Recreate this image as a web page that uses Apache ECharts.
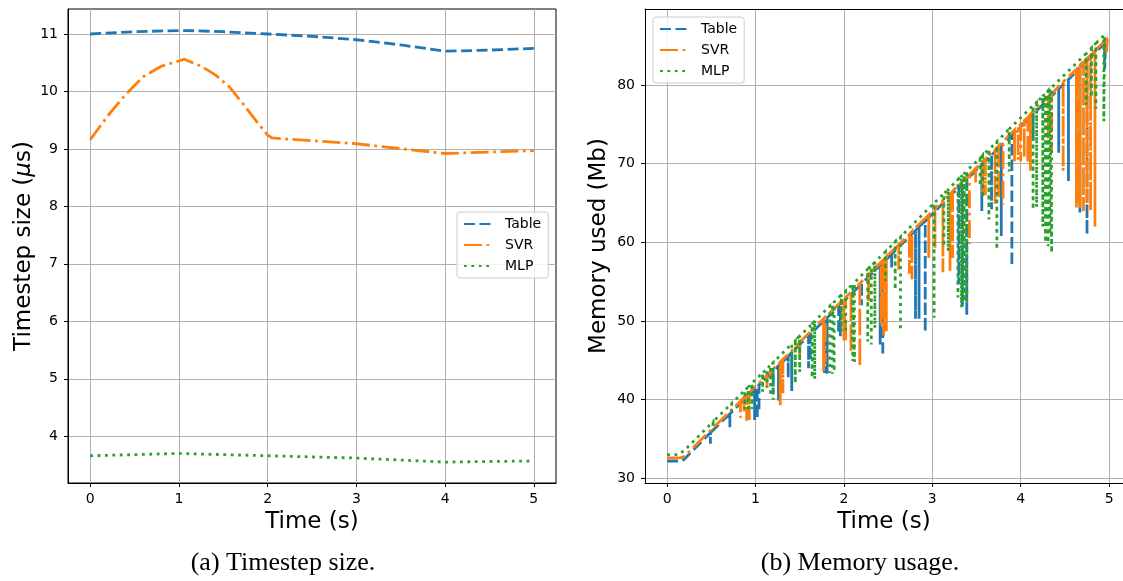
<!DOCTYPE html>
<html>
<head>
<meta charset="utf-8">
<script src="https://cdn.jsdelivr.net/npm/echarts@6/dist/echarts.min.js"></script>
<style>
html,body{margin:0;padding:0;background:#fff;}
#chart{width:1123px;height:581px;}
</style>
</head>
<body>
<div id="chart"></div>
<script>
// ---------- Data: (a) Timestep size ----------
const seriesNames = ['Table', 'SVR', 'MLP'];
const timeTicks = [0, 1, 2, 3, 4, 5];
const timestepTicks = [4, 5, 6, 7, 8, 9, 10, 11];
const memoryTicks = [30, 40, 50, 60, 70, 80];
const timestepTable = [[0,11.0],[0.5,11.04],[1.0,11.06],[1.1,11.06],[1.5,11.04],[2.0,11.0],[2.5,10.96],[3.0,10.9],[3.5,10.81],[4.0,10.7],[4.5,10.72],[5.0,10.75]];
const timestepSVR = [[0,9.16],[0.19,9.56],[0.4,9.95],[0.6,10.26],[0.8,10.44],[1.0,10.53],[1.06,10.56],[1.25,10.44],[1.41,10.29],[1.57,10.08],[1.73,9.77],[1.89,9.45],[2.0,9.24],[2.05,9.19],[3.0,9.09],[4.0,8.92],[5.0,8.97]];
const timestepMLP = [[0,3.66],[1.0,3.70],[2.0,3.66],[3.0,3.62],[4.0,3.55],[5.0,3.57]];

// ---------- Data: (b) Memory usage ----------
const memTable = [
[0,32.2],[0.17,32.2],[0.2,32.5],
[0.49,35.8],[0.49,34.4],[0.49,35.8],
[0.71,38.2],[0.71,36.5],[0.71,38.2],
[0.99,41.3],[0.99,37.4],[0.99,41.3],
[1.02,41.6],[1.02,37.6],[1.02,41.6],
[1.04,41.9],[1.04,38.5],[1.04,41.9],
[1.2,43.6],[1.2,40.7],[1.2,43.6],
[1.26,44.3],[1.26,39.9],[1.26,44.3],
[1.37,45.5],[1.37,42.8],[1.37,45.5],
[1.41,46.0],[1.41,41.1],[1.41,46.0],
[1.6,48.1],[1.6,44.0],[1.6,48.1],
[1.62,48.3],[1.62,45.0],[1.62,48.3],
[1.78,50.1],[1.78,43.4],[1.78,50.1],
[1.81,50.4],[1.81,43.3],[1.81,50.4],
[1.94,51.8],[1.94,48.4],[1.94,51.8],
[1.96,52.1],[1.96,47.9],[1.96,52.1],
[2.2,54.7],[2.2,52.0],[2.2,54.7],
[2.41,57.1],[2.41,47.0],[2.41,57.1],
[2.44,57.4],[2.44,45.6],[2.44,57.4],
[2.54,58.5],[2.54,56.8],[2.54,58.5],
[2.81,61.5],[2.81,50.3],[2.81,61.5],
[2.85,62.0],[2.85,50.3],[2.85,62.0],
[2.92,62.7],[2.92,48.6],[2.92,62.7],
[3.3,67.0],[3.3,54.7],[3.3,67.0],
[3.34,67.4],[3.34,51.8],[3.34,67.4],
[3.39,68.0],[3.39,50.6],[3.39,68.0],
[3.56,69.9],[3.56,64.0],[3.56,69.9],
[3.67,71.1],[3.67,64.2],[3.67,71.1],
[3.78,72.3],[3.78,60.8],[3.78,72.3],
[3.9,73.6],[3.9,57.0],[3.9,73.6],
[4.14,76.3],[4.14,72.9],[4.14,76.3],
[4.43,79.5],[4.43,71.4],[4.43,79.5],
[4.54,80.7],[4.54,67.8],[4.54,80.7],
[4.67,82.2],[4.67,63.8],[4.67,82.2],
[4.75,83.1],[4.75,61.0],[4.75,83.1],
[4.95,85.3],[4.95,82.0],[4.96,85.4]
];
const memSVR = [
[0,32.6],[0.15,32.6],[0.2,32.8],[0.5,36.2],
[0.83,39.8],[0.83,37.7],[0.83,39.8],
[0.87,40.3],[0.87,38.5],[0.87,40.3],
[0.9,40.6],[0.9,37.3],[0.9,40.6],
[0.93,40.9],[0.93,37.4],[0.93,40.9],
[1.13,43.1],[1.13,41.6],[1.13,43.1],
[1.17,43.6],[1.17,42.6],[1.17,43.6],
[1.28,44.8],[1.28,39.3],[1.28,44.8],
[1.31,45.1],[1.31,40.8],[1.31,45.1],
[1.5,47.3],[1.5,45.5],[1.5,47.3],
[1.77,50.3],[1.77,43.6],[1.77,50.3],
[1.79,50.5],[1.79,44.7],[1.79,50.5],
[2.0,52.8],[2.0,47.5],[2.0,52.8],
[2.02,53.0],[2.02,47.4],[2.02,53.0],
[2.08,53.7],[2.08,46.0],[2.08,53.7],
[2.18,54.8],[2.18,44.2],[2.18,54.8],
[2.28,55.9],[2.28,52.5],[2.28,55.9],
[2.42,57.5],[2.42,49.5],[2.42,57.5],
[2.45,57.8],[2.45,48.2],[2.45,57.8],
[2.48,58.2],[2.48,48.7],[2.48,58.2],
[2.62,59.7],[2.62,56.5],[2.62,59.7],
[2.74,61.0],[2.74,56.0],[2.74,61.0],
[2.77,61.4],[2.77,55.3],[2.77,61.4],
[2.96,63.5],[2.96,58.0],[2.96,63.5],
[3.03,64.3],[3.03,59.3],[3.03,64.3],
[3.12,65.3],[3.12,56.2],[3.12,65.3],
[3.2,66.1],[3.2,56.4],[3.2,66.1],
[3.23,66.5],[3.23,58.0],[3.23,66.5],
[3.42,68.6],[3.42,59.8],[3.42,68.6],
[3.49,69.4],[3.49,67.4],[3.49,69.4],
[3.57,70.3],[3.57,66.1],[3.57,70.3],
[3.6,70.6],[3.6,66.0],[3.6,70.6],
[3.71,71.8],[3.71,64.8],[3.71,71.8],
[3.75,72.3],[3.75,65.5],[3.75,72.3],
[3.8,72.8],[3.8,64.8],[3.8,72.8],
[3.93,74.3],[3.93,70.3],[3.93,74.3],
[3.97,74.7],[3.97,70.5],[3.97,74.7],
[4.0,75.0],[4.0,70.3],[4.0,75.0],
[4.04,75.5],[4.04,70.8],[4.04,75.5],
[4.08,75.9],[4.08,70.0],[4.08,75.9],
[4.11,76.3],[4.11,69.1],[4.11,76.3],
[4.31,78.5],[4.31,73.0],[4.31,78.5],
[4.35,78.9],[4.35,71.5],[4.35,78.9],
[4.48,80.4],[4.48,69.1],[4.48,80.4],
[4.63,82.0],[4.63,64.4],[4.63,82.0],
[4.65,82.2],[4.65,65.0],[4.65,82.2],
[4.67,82.5],[4.67,64.4],[4.67,82.5],
[4.71,82.9],[4.71,64.0],[4.71,82.9],
[4.75,83.4],[4.75,65.0],[4.75,83.4],
[4.79,83.8],[4.79,64.0],[4.79,83.8],
[4.84,84.4],[4.84,62.0],[4.84,84.4],
[4.97,85.8],[4.97,84.1],[4.98,85.9]
];
const memMLP = [
[0,33.0],[0.13,33.0],[0.2,33.6],
[0.52,37.2],[0.52,36.0],[0.52,37.2],
[0.73,39.5],[0.73,38.5],[0.73,39.5],
[0.88,41.2],[0.88,38.8],[0.88,41.2],
[0.92,41.6],[0.92,38.5],[0.92,41.6],
[0.96,42.1],[0.96,38.8],[0.96,42.1],
[1.08,43.4],[1.08,41.0],[1.08,43.4],
[1.13,43.9],[1.13,41.5],[1.13,43.9],
[1.17,44.4],[1.17,40.5],[1.17,44.4],
[1.2,44.7],[1.2,40.0],[1.2,44.7],
[1.41,47.1],[1.41,43.5],[1.41,47.1],
[1.45,47.5],[1.45,42.1],[1.45,47.5],
[1.5,48.1],[1.5,43.5],[1.5,48.1],
[1.64,49.6],[1.64,42.8],[1.64,49.6],
[1.67,50.0],[1.67,42.6],[1.67,50.0],
[1.84,51.9],[1.84,43.4],[1.84,51.9],
[1.87,52.2],[1.87,43.3],[1.87,52.2],
[1.89,52.4],[1.89,43.6],[1.89,52.4],
[1.97,53.3],[1.97,48.7],[1.97,53.3],
[2.02,53.8],[2.02,48.5],[2.02,53.8],
[2.1,54.7],[2.1,44.9],[2.1,54.7],
[2.12,54.9],[2.12,44.8],[2.12,54.9],
[2.27,56.6],[2.27,47.4],[2.27,56.6],
[2.31,57.0],[2.31,47.0],[2.31,57.0],
[2.35,57.5],[2.35,49.1],[2.35,57.5],
[2.47,58.8],[2.47,55.1],[2.47,58.8],
[2.58,60.1],[2.58,54.0],[2.58,60.1],
[2.64,60.7],[2.64,48.8],[2.64,60.7],
[3.02,65.0],[3.02,50.4],[3.02,65.0],
[3.13,66.2],[3.13,59.5],[3.13,66.2],
[3.18,66.7],[3.18,58.9],[3.18,66.7],
[3.29,68.0],[3.29,53.0],[3.29,68.0],
[3.33,68.4],[3.33,51.7],[3.33,68.4],
[3.36,68.7],[3.36,52.5],[3.36,68.7],
[3.39,69.1],[3.39,52.2],[3.39,69.1],
[3.54,70.7],[3.54,67.2],[3.54,70.7],
[3.57,71.1],[3.57,65.7],[3.57,71.1],
[3.64,71.8],[3.64,62.9],[3.64,71.8],
[3.73,72.8],[3.73,59.1],[3.73,72.8],
[3.87,74.4],[3.87,69.0],[3.87,74.4],
[4.14,77.4],[4.14,64.2],[4.14,77.4],
[4.18,77.8],[4.18,64.5],[4.18,77.8],
[4.25,78.6],[4.25,62.0],[4.25,78.6],
[4.28,78.9],[4.28,60.0],[4.28,78.9],
[4.31,79.3],[4.31,59.5],[4.31,79.3],
[4.33,79.5],[4.33,61.0],[4.33,79.5],
[4.35,79.7],[4.35,58.7],[4.35,79.7],
[4.74,84.0],[4.74,77.5],[4.74,84.0],
[4.8,84.7],[4.8,78.5],[4.8,84.7],
[4.85,85.3],[4.85,77.0],[4.85,85.3],
[4.94,86.3],[4.94,75.4],[4.95,86.5]
];

// ---------- Style ----------
const FONT = 'DejaVu Sans';
const COLORS = ['#1f77b4', '#ff7f0e', '#2ca02c'];
const LW = 2.8;
const DASHES = [[11, 4.5], [18, 4.5, 2.8, 4.5], [2.8, 4.6]];

function xAxisCfg(gi, min, max) {
  return {
    type: 'value', gridIndex: gi, min: min, max: max, minInterval: 1, maxInterval: 1,
    name: 'Time (s)', nameLocation: 'middle', nameGap: 28,
    nameTextStyle: { fontFamily: FONT, fontSize: 23, color: '#000' },
    axisLine: { show: true, onZero: false, lineStyle: { color: '#000', width: 1 } },
    axisTick: { show: true, inside: false, length: 4, customValues: timeTicks, lineStyle: { color: '#000', width: 1 } },
    axisLabel: { fontFamily: FONT, fontSize: 14, color: '#000', margin: 9, customValues: timeTicks },
    splitLine: { show: true, lineStyle: { color: '#b0b0b0', width: 1 } }
  };
}
function yAxisCfg(gi, min, max, step, ticks, name, gap, rich) {
  return {
    type: 'value', gridIndex: gi, min: min, max: max, minInterval: step, maxInterval: step,
    name: name, nameLocation: 'middle', nameGap: gap,
    nameTextStyle: { fontFamily: FONT, fontSize: 23, color: '#000', rich: rich || {} },
    axisLine: { show: true, onZero: false, lineStyle: { color: '#000', width: 1 } },
    axisTick: { show: true, inside: false, length: 4, customValues: ticks, lineStyle: { color: '#000', width: 1 } },
    axisLabel: { fontFamily: FONT, fontSize: 14, color: '#000', margin: 10, customValues: ticks },
    splitLine: { show: true, lineStyle: { color: '#b0b0b0', width: 1 } }
  };
}
function legendCfg(left, top) {
  return {
    show: true, orient: 'vertical', left: left, top: top, data: seriesNames,
    itemWidth: 27, itemHeight: 14, itemGap: 7, selectedMode: false,
    padding: [5, 7, 5, 6],
    itemStyle: { color: 'rgba(0,0,0,0)', borderColor: 'rgba(0,0,0,0)', borderWidth: 0 },
    backgroundColor: 'rgba(255,255,255,0.85)', borderColor: '#cccccc', borderWidth: 1, borderRadius: 3,
    textStyle: { fontFamily: FONT, fontSize: 14, color: '#000', padding: [0, 0, 0, 9] }
  };
}
function lineSeries(i, data, xi, yi) {
  return {
    type: 'line', name: seriesNames[i], xAxisIndex: xi, yAxisIndex: yi,
    data: data, symbol: 'none', showSymbol: false, smooth: false, clip: true,
    color: COLORS[i],
    lineStyle: { color: COLORS[i], width: LW, type: DASHES[i], cap: 'butt', join: 'miter' },
    emphasis: { disabled: true }, animation: false
  };
}

// right panel: the plot area runs past the page edge, so the axis max is
// chosen so that 1 s spans the same width as in the left panel
const rightMax = 5.157;
const topSpine = {
  type: 'value', gridIndex: 1, position: 'top', min: -0.25, max: rightMax,
  axisLine: { show: true, onZero: false, lineStyle: { color: '#000', width: 1 } },
  axisTick: { show: false }, axisLabel: { show: false }, splitLine: { show: false }
};

const chart = echarts.init(document.getElementById('chart'), null, { renderer: 'canvas' });
chart.setOption({
  animation: false,
  backgroundColor: '#ffffff',
  grid: [
    { left: 68, right: 567, top: 9, bottom: 98, show: true, borderColor: '#000', borderWidth: 1, backgroundColor: 'transparent', containLabel: false },
    { left: 645, right: 0, top: 9, bottom: 98, show: false, containLabel: false }
  ],
  xAxis: [xAxisCfg(0, -0.25, 5.25), xAxisCfg(1, -0.25, rightMax), topSpine],
  yAxis: [
    yAxisCfg(0, 3.186, 11.435, 1, timestepTicks, 'Timestep size ({i|μ}s)', 32, { i: { fontFamily: FONT, fontSize: 23, fontStyle: 'italic', color: '#000' } }),
    yAxisCfg(1, 29.4, 89.67, 10, memoryTicks, 'Memory used (Mb)', 34)
  ],
  legend: [legendCfg(457, 212), legendCfg(653, 17)],
  series: [
    lineSeries(0, timestepTable, 0, 0),
    lineSeries(1, timestepSVR, 0, 0),
    lineSeries(2, timestepMLP, 0, 0),
    lineSeries(0, memTable, 1, 1),
    lineSeries(1, memSVR, 1, 1),
    lineSeries(2, memMLP, 1, 1)
  ],
  graphic: [
    { type: 'text', x: 283, y: 563, style: { text: '(a) Timestep size.', font: '26px "Liberation Serif"', fill: '#000', align: 'center', verticalAlign: 'middle', textAlign: 'center', textVerticalAlign: 'middle' } },
    { type: 'text', x: 860, y: 563, style: { text: '(b) Memory usage.', font: '26px "Liberation Serif"', fill: '#000', align: 'center', verticalAlign: 'middle', textAlign: 'center', textVerticalAlign: 'middle' } }
  ]
});
</script>
</body>
</html>
